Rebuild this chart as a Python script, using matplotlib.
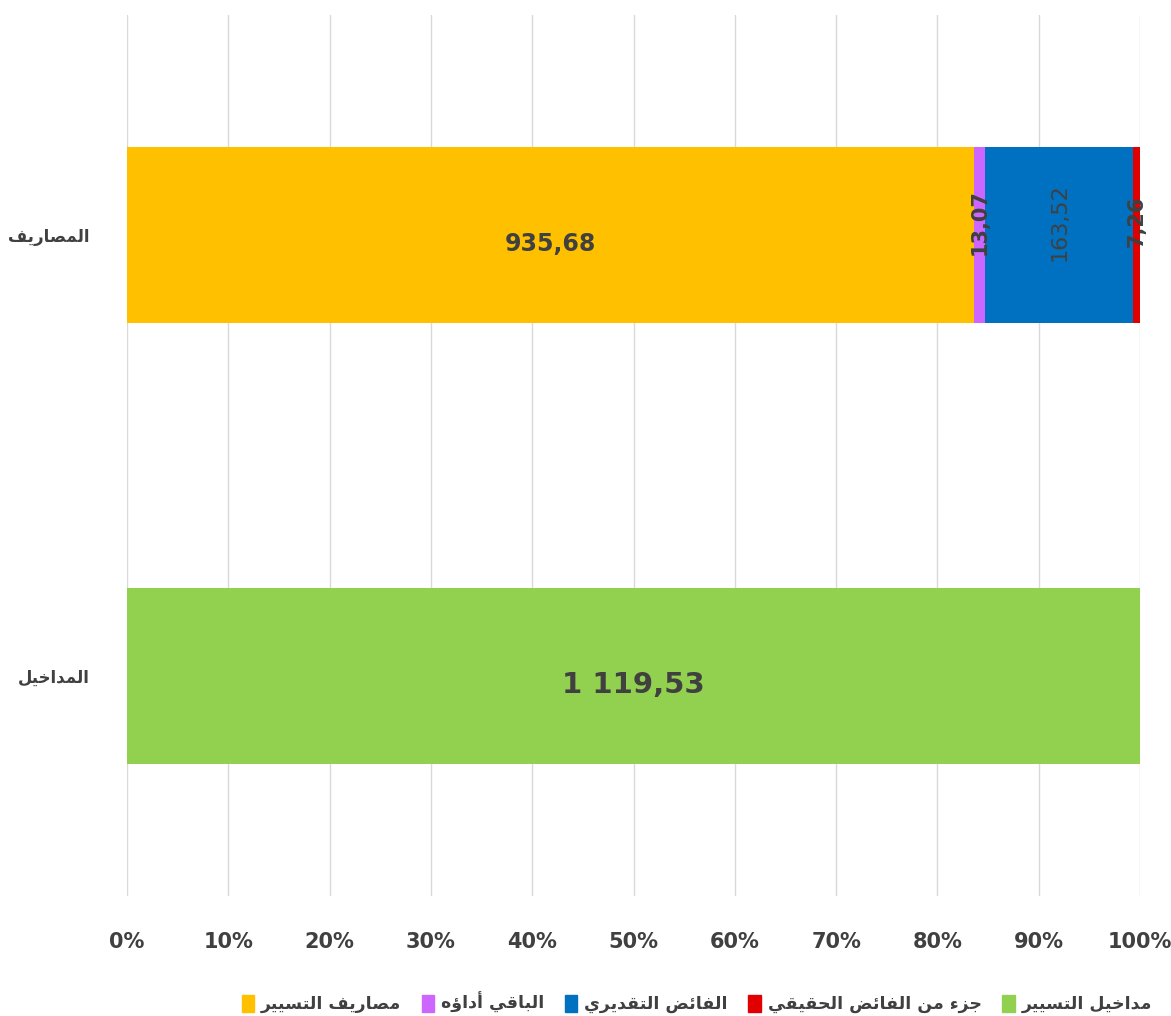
import matplotlib.pyplot as plt
import numpy as np
from matplotlib.patches import Patch

# data
categories = ['المداخيل', 'المصاريف']
series_names = ['مصاريف التسيير', 'الباقي أداؤه', 'الفائض التقديري',
                'جزء من الفائض الحقيقي', 'مداخيل التسيير']
series_colors = ['#FFC000', '#CC66FF', '#0070C0', '#E00000', '#92D050']
orange_vals = [0, 935.68]
purple_vals = [0, 13.07]
blue_vals = [0, 163.52]
red_vals = [0, 7.26]
green_vals = [1119.53, 0]
xtick_labels = ['0%', '10%', '20%', '30%', '40%', '50%', '60%', '70%', '80%', '90%', '100%']


# tiny arabic shaper : presentation forms + right to left order
FORMS = {
    'ء': ('\uFE80', None, None, None),
    'أ': ('\uFE83', '\uFE84', None, None),
    'ؤ': ('\uFE85', '\uFE86', None, None),
    'ئ': ('\uFE89', '\uFE8A', '\uFE8B', '\uFE8C'),
    'ا': ('\uFE8D', '\uFE8E', None, None),
    'ب': ('\uFE8F', '\uFE90', '\uFE91', '\uFE92'),
    'ة': ('\uFE93', '\uFE94', None, None),
    'ت': ('\uFE95', '\uFE96', '\uFE97', '\uFE98'),
    'ج': ('\uFE9D', '\uFE9E', '\uFE9F', '\uFEA0'),
    'ح': ('\uFEA1', '\uFEA2', '\uFEA3', '\uFEA4'),
    'خ': ('\uFEA5', '\uFEA6', '\uFEA7', '\uFEA8'),
    'د': ('\uFEA9', '\uFEAA', None, None),
    'ر': ('\uFEAD', '\uFEAE', None, None),
    'ز': ('\uFEAF', '\uFEB0', None, None),
    'س': ('\uFEB1', '\uFEB2', '\uFEB3', '\uFEB4'),
    'ص': ('\uFEB9', '\uFEBA', '\uFEBB', '\uFEBC'),
    'ض': ('\uFEBD', '\uFEBE', '\uFEBF', '\uFEC0'),
    'ف': ('\uFED1', '\uFED2', '\uFED3', '\uFED4'),
    'ق': ('\uFED5', '\uFED6', '\uFED7', '\uFED8'),
    'ل': ('\uFEDD', '\uFEDE', '\uFEDF', '\uFEE0'),
    'م': ('\uFEE1', '\uFEE2', '\uFEE3', '\uFEE4'),
    'ن': ('\uFEE5', '\uFEE6', '\uFEE7', '\uFEE8'),
    'ه': ('\uFEE9', '\uFEEA', '\uFEEB', '\uFEEC'),
    'و': ('\uFEED', '\uFEEE', None, None),
    'ي': ('\uFEF1', '\uFEF2', '\uFEF3', '\uFEF4'),
}


def joins_next(c):
    return c in FORMS and FORMS[c][2] is not None


def joins_prev(c):
    return c in FORMS and FORMS[c][1] is not None


def shape(txt):
    out = []
    for i, c in enumerate(txt):
        if c not in FORMS:
            out.append(c)
            continue
        prev = txt[i-1] if i > 0 else ''
        nxt = txt[i+1] if i < len(txt)-1 else ''
        p = joins_next(prev) and joins_prev(c)
        n = joins_next(c) and joins_prev(nxt)
        iso, fin, ini, med = FORMS[c]
        if p and n:
            out.append(med)
        elif p:
            out.append(fin)
        elif n:
            out.append(ini)
        else:
            out.append(iso)
    return ''.join(out)[::-1]


def fmt(v):
    s = f"{v:,.2f}".replace(',', ' ').replace('.', ',')
    return s


fig = plt.figure(figsize=(11.71, 10.16), dpi=100)
ax = fig.add_axes([0.1085, 0.118, 0.865, 0.8677])

all_vals = np.array([orange_vals, purple_vals, blue_vals, red_vals, green_vals])
totals = all_vals.sum(axis=0)
pct = all_vals / totals * 100

y = np.arange(len(categories))
left = np.zeros(len(categories))
for k in range(len(all_vals)):
    ax.barh(y, pct[k], left=left, height=0.4, color=series_colors[k], zorder=2)
    for j in range(len(categories)):
        v = all_vals[k][j]
        if v == 0:
            continue
        cx = left[j] + pct[k][j] / 2
        if pct[k][j] > 50:
            size = 17 if v < 1000 else 21
            ax.text(cx, y[j] - 0.02, fmt(v), ha='center', va='center', fontsize=size,
                    color='#404040', fontweight='bold', zorder=3)
        else:
            size = 16 if v > 100 else 15
            ax.text(cx, y[j] + 0.03, fmt(v), ha='center', va='center', fontsize=size,
                    color='#404040', fontweight='bold' if v < 100 else 'normal',
                    rotation=90, zorder=3)
    left = left + pct[k]

ax.set_xlim(0, 100)
ax.set_ylim(-0.5, 1.5)
ax.set_xticks(np.arange(0, 101, 10))
ax.set_xticklabels(xtick_labels, fontsize=15, color='#404040', fontweight='bold')
ax.set_yticks(y)
ax.set_yticklabels([shape(c) for c in categories], fontsize=12, color='#404040',
                   fontweight='bold')
ax.tick_params(axis='x', length=0, pad=26)
ax.tick_params(axis='y', length=0, pad=27)
ax.grid(axis='x', color='#D9D9D9', lw=1, zorder=0)
for s in ax.spines.values():
    s.set_visible(False)

handles = [Patch(color=series_colors[k], label=shape(series_names[k])) for k in range(5)]
leg = fig.legend(handles=handles, loc='center', bbox_to_anchor=(0.595, 0.013), ncol=5,
                 frameon=False, fontsize=12.5, handlelength=0.7, handleheight=1.1,
                 columnspacing=1.2, handletextpad=0.4)
for t in leg.get_texts():
    t.set_fontweight('bold')
    t.set_color('#404040')

fig.savefig('out.png', dpi=100)
